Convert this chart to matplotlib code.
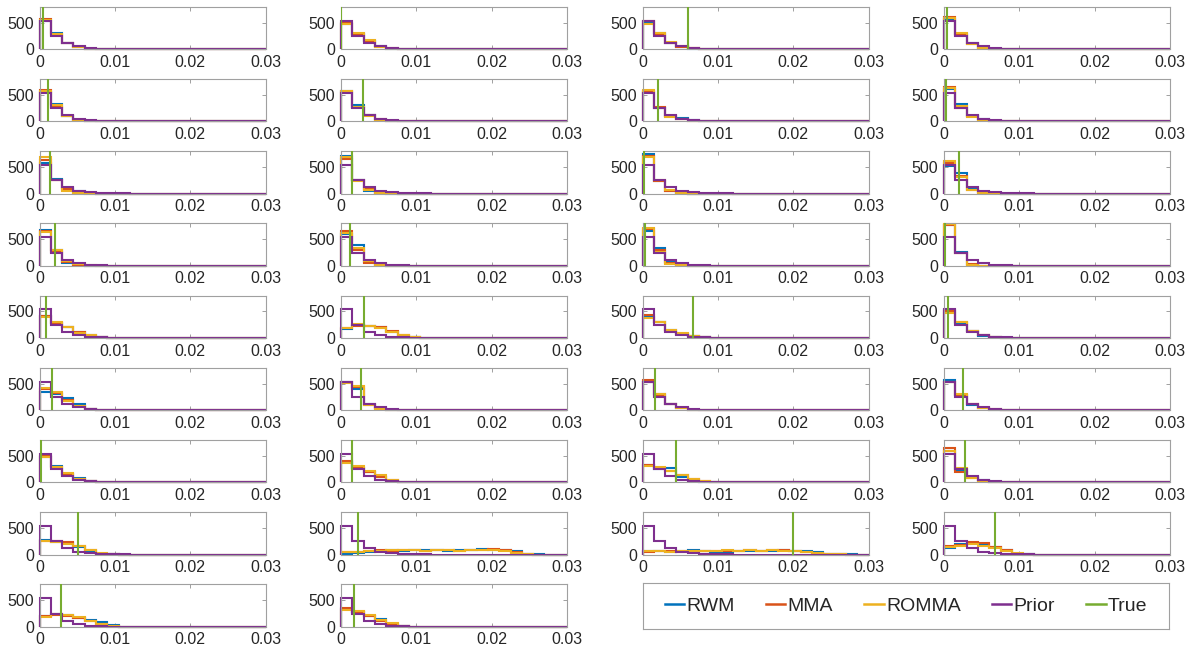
import numpy as np
import matplotlib
matplotlib.use("Agg")
import matplotlib.pyplot as plt
from matplotlib.lines import Line2D

plt.rcParams['font.family'] = ['Liberation Sans', 'DejaVu Sans']

# Histogram bins (stairs style): 20 bins of width 0.0015 on [0, 0.03]
bin_edges = np.linspace(0.0, 0.03, 21)

series_names = ["RWM", "MMA", "ROMMA", "Prior", "True"]
series_colors = ["#0072BD", "#D95319", "#EDB120", "#7E2F8E", "#77AC30"]

# True parameter value per panel
true_vals = [
    0.00045, 0.00005, 0.0061, 0.00035,
    0.0011, 0.0029, 0.0021, 0.0003,
    0.0014, 0.0014, 0.0002, 0.0020,
    0.0021, 0.0012, 0.0003, 0.0001,
    0.0009, 0.0030, 0.0067, 0.0005,
    0.0016, 0.0027, 0.0016, 0.0025,
    0.0002, 0.0014, 0.0045, 0.0028,
    0.0051, 0.0022, 0.0200, 0.0068,
    0.0029, 0.0017,
]

# Prior counts (same in every panel)
prior_counts = [540, 250, 115, 52, 24, 10, 5, 2, 1, 1]

rwm_counts = [
    [540, 300, 110, 35, 10, 3], [480, 290, 160, 60, 10, 3], [520, 310, 120, 40, 10], [560, 290, 110, 30, 10],
    [560, 330, 110, 30, 10, 3], [570, 300, 120, 30, 8, 2], [550, 260, 100, 55, 25, 8, 2], [610, 320, 100, 40, 15, 5],
    [570, 280, 100, 40, 10], [700, 260, 40, 10], [740, 230, 40, 10], [520, 390, 90, 30, 10],
    [680, 300, 50, 12, 4], [590, 390, 70, 15, 5], [650, 340, 80, 15], [760, 260, 20, 5],
    [410, 290, 200, 120, 60, 15, 5], [170, 240, 230, 200, 110, 40, 10], [400, 310, 150, 80, 40, 15, 5], [520, 290, 130, 45, 12, 3],
    [350, 300, 230, 120, 30, 8], [530, 390, 120, 40, 10], [540, 310, 110, 40, 5], [560, 290, 100, 40, 10],
    [480, 300, 160, 80, 20, 5], [390, 280, 200, 110, 30, 10], [320, 260, 270, 100, 40, 10], [590, 240, 100, 40, 10],
    [280, 240, 210, 150, 70, 20, 5],
    [10, 30, 50, 70, 80, 70, 80, 90, 80, 70, 90, 80, 100, 90, 80, 60, 20, 5],
    [60, 60, 50, 60, 90, 60, 40, 50, 60, 60, 70, 70, 80, 70, 60, 40, 20, 10, 3],
    [120, 200, 210, 200, 140, 80, 20, 5],
    [200, 240, 220, 170, 120, 90, 30, 5], [330, 280, 210, 150, 60, 15, 5],
]

mma_counts = [
    [565, 270, 110, 40, 10], [490, 290, 150, 50, 15], [540, 280, 120, 50, 15], [600, 260, 100, 30, 10],
    [590, 280, 100, 25, 8, 2], [560, 270, 120, 40, 10], [580, 270, 100, 40, 10, 3], [650, 250, 110, 35, 10],
    [640, 260, 80, 20, 5], [650, 260, 80, 20, 5], [710, 230, 55, 15], [570, 340, 70, 15, 5],
    [660, 260, 70, 20], [660, 300, 60, 15, 5], [690, 290, 60, 10], [770, 250, 30],
    [420, 280, 210, 110, 40, 10], [190, 230, 220, 200, 130, 50, 10], [430, 300, 140, 70, 40, 15], [500, 300, 130, 50, 15],
    [400, 320, 190, 80, 20, 5], [540, 440, 100, 30, 8], [560, 280, 110, 40, 10], [530, 290, 120, 50, 15],
    [500, 290, 150, 60, 20, 5], [400, 270, 190, 100, 40, 10], [330, 270, 210, 140, 60, 20, 5], [640, 200, 90, 30, 10],
    [260, 250, 230, 170, 80, 20, 5],
    [40, 50, 60, 80, 70, 80, 90, 70, 80, 90, 70, 90, 80, 100, 80, 40, 10],
    [50, 60, 60, 50, 60, 70, 60, 60, 70, 80, 70, 80, 80, 70, 50, 30, 15, 5],
    [160, 180, 230, 210, 150, 90, 20],
    [210, 230, 210, 160, 100, 50, 10], [350, 280, 200, 110, 40, 10],
]

romma_counts = [
    [550, 280, 120, 40, 10], [470, 300, 170, 50, 10], [480, 300, 130, 60, 25, 5], [580, 300, 90, 25, 5],
    [575, 300, 110, 20, 5], [580, 280, 110, 30, 8], [600, 260, 90, 40, 10], [620, 290, 80, 25, 5],
    [680, 250, 55, 15], [680, 240, 60, 15, 5], [690, 250, 60, 15], [610, 310, 60, 15, 5],
    [630, 290, 90, 30, 8], [620, 330, 90, 10], [720, 260, 30, 10], [785, 240, 15],
    [390, 300, 200, 100, 50, 15], [180, 260, 230, 180, 120, 60, 15], [380, 300, 160, 90, 45, 20, 5], [480, 300, 140, 55, 20, 5],
    [420, 350, 180, 70, 15, 5], [520, 460, 90, 20, 5], [530, 300, 120, 40, 10], [540, 300, 110, 40, 10],
    [470, 290, 170, 70, 20, 5], [360, 300, 220, 130, 50, 10], [300, 290, 220, 140, 60, 20], [600, 270, 80, 25, 5],
    [250, 230, 200, 160, 90, 25, 5],
    [40, 50, 70, 60, 80, 90, 80, 70, 90, 80, 70, 80, 90, 80, 70, 30, 10],
    [60, 70, 50, 60, 70, 60, 70, 80, 70, 80, 70, 80, 70, 60, 50, 30, 20, 5],
    [150, 170, 200, 170, 130, 60, 30, 5],
    [190, 240, 230, 180, 110, 60, 20, 5], [310, 300, 230, 130, 70, 20],
]

x_ticks = [0, 0.01, 0.02, 0.03]
x_tick_labels = ["0", "0.01", "0.02", "0.03"]
y_ticks = [0, 500]
y_tick_labels = ["0", "500"]


def full_counts(counts):
    arr = np.zeros(len(bin_edges) - 1)
    arr[:len(counts)] = counts
    return arr


W, H = 1191, 651
fig = plt.figure(figsize=(W / 100, H / 100), dpi=100)

col_left = [39.5, 341.0, 642.5, 944.0]
ax_w = 226.0
ax_h = 42.5
row_top0 = 6.7
row_pitch = 72.2
frame_color = "#a0a0a0"
text_color = "#262626"

for i in range(len(true_vals)):
    r, c = divmod(i, 4)
    top = row_top0 + r * row_pitch
    ax = fig.add_axes([col_left[c] / W, 1 - (top + ax_h) / H, ax_w / W, ax_h / H])
    groups = [rwm_counts[i], mma_counts[i], romma_counts[i], prior_counts]
    for counts, color in zip(groups, series_colors[:4]):
        ax.stairs(full_counts(counts), bin_edges, color=color, linewidth=1.5,
                  baseline=0, clip_on=False, zorder=2)
    ax.axvline(true_vals[i], color=series_colors[4], linewidth=1.5, zorder=3)
    ax.set_xlim(0, 0.03)
    ax.set_ylim(0, 800)
    ax.set_xticks(x_ticks)
    ax.set_xticklabels(x_tick_labels)
    ax.set_yticks(y_ticks)
    ax.set_yticklabels(y_tick_labels)
    ax.tick_params(direction="in", length=3, width=0.7, color=frame_color,
                   labelsize=11.5, labelcolor=text_color, top=True, right=True)
    ax.tick_params(axis="x", pad=4)
    ax.tick_params(axis="y", pad=4)
    for sp in ax.spines.values():
        sp.set_color(frame_color)
        sp.set_linewidth(0.8)

# Legend in its own framed box
leg_left, leg_top, leg_right, leg_bottom = 643, 583, 1169, 629
leg_ax = fig.add_axes([leg_left / W, 1 - leg_bottom / H,
                       (leg_right - leg_left) / W, (leg_bottom - leg_top) / H])
leg_ax.set_xticks([])
leg_ax.set_yticks([])
for sp in leg_ax.spines.values():
    sp.set_color(frame_color)
    sp.set_linewidth(0.8)

handles = [Line2D([0], [0], color=col, linewidth=1.8) for col in series_colors]
leg = leg_ax.legend(handles, series_names, ncol=5, loc="center", frameon=False,
                    fontsize=14, handlelength=1.0, handletextpad=0.12,
                    columnspacing=1.6, borderpad=0, borderaxespad=0)
for t in leg.get_texts():
    t.set_color(text_color)

fig.savefig("out.png", dpi=100)
